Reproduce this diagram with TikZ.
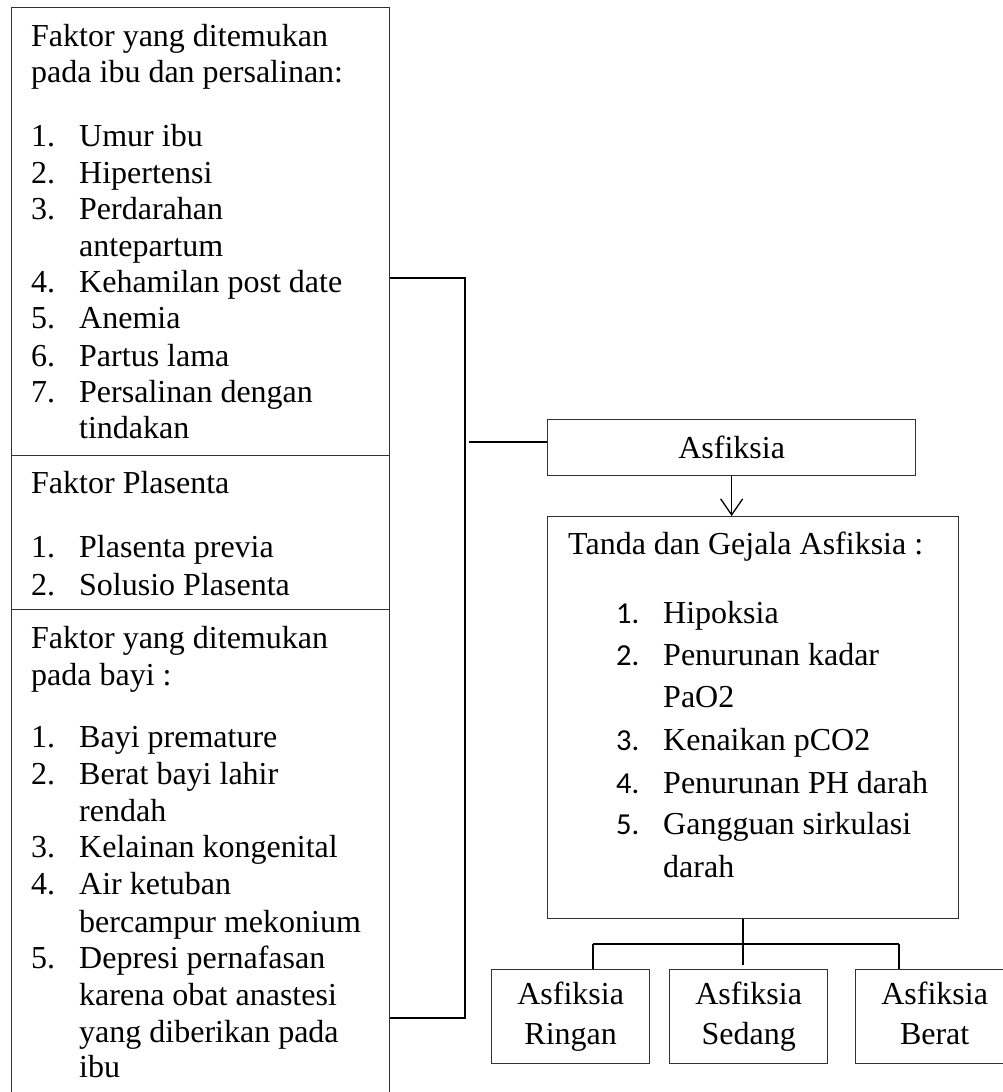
\documentclass[tikz,border=0pt]{standalone}
\usepackage{fontspec}
\setmainfont{Liberation Serif}
\newfontfamily\numfont{Carlito}
\usetikzlibrary{arrows.meta}

\begin{document}
\begin{tikzpicture}
[%%%%%%%%%%%%%%%%%%%%%%%%%%%%%%
x=1pt,y=-1pt,
box/.style={rectangle,draw=black!80,line width=1.3pt,inner sep=0pt,anchor=north west,align=center,font=\fontsize{32}{40}\selectfont},
txt/.style={anchor=base west,inner sep=0pt,font=\fontsize{32}{37}\selectfont},
num/.style={anchor=base west,inner sep=0pt,font=\fontsize{30.5}{37}\numfont},
link/.style={draw=black,line width=2pt},
arr/.style={draw=black,line width=1.3pt,-{Straight Barb[length=16pt,width=22pt]}},
]%%%%%%%%%%%%%%%%%%%%%%%%%%%%%%

\useasboundingbox (0,0) rectangle (1002,1092);

\node[box,minimum width=378pt,minimum height=448pt] (ibu) at (11,7){};
\node[box,minimum width=378pt,minimum height=154pt] (plasenta) at (11,455){};
\node[box,minimum width=378pt,minimum height=491pt] (bayi) at (11,609){};

\node[box,minimum width=368pt,minimum height=56pt] (asf) at (547,419){Asfiksia};
\node[box,minimum width=411pt,minimum height=402pt] (tanda) at (547,516){};
\node[box,minimum width=158pt,minimum height=94pt] (ringan) at (491,969){Asfiksia\\Ringan};
\node[box,minimum width=158pt,minimum height=94pt] (sedang) at (669,969){Asfiksia\\Sedang};
\node[box,minimum width=158pt,minimum height=94pt] (berat) at (855,969){Asfiksia\\Berat\vphantom{g}};

\foreach \y/\t [count=\i] in {46/Faktor yang ditemukan,82/pada ibu dan persalinan:,
493/Faktor Plasenta,648/Faktor yang ditemukan,685/pada bayi :}
\node[txt] (judul\i) at (31,\y){\t};

\foreach \y/\n [count=\i] in {146/1.,183/2.,219/3.,292/4.,328/5.,366/6.,402/7.,
557/1.,595/2.,747/1.,784/2.,857/3.,894/4.,968/5.}
\node[txt] (nomor\i) at (31,\y){\n};

\foreach \y/\t [count=\i] in {146/Umur ibu,183/Hipertensi,219/Perdarahan,256/antepartum,
292/Kehamilan post date,328/Anemia,366/Partus lama,402/Persalinan dengan,438/tindakan,
557/Plasenta previa,595/Solusio Plasenta,
747/Bayi premature,784/Berat bayi lahir,821/rendah,857/Kelainan kongenital,894/Air ketuban,
932/bercampur mekonium,968/Depresi pernafasan,1005/karena obat anastesi,
1042/yang diberikan pada,1077/ibu}
\node[txt] (isi\i) at (79,\y){\t};

\node[txt] (judultanda) at (568,554){Tanda dan Gejala Asfiksia :};
\foreach \y/\n [count=\i] in {623/1.,665/2.,750/3.,793/4.,834/5.}
\node[num] (nomorgejala\i) at (616,\y){\n};
\foreach \y/\t [count=\i] in {623/Hipoksia,665/Penurunan kadar,707/PaO2,750/Kenaikan pCO2,
793/Penurunan PH darah,834/Gangguan sirkulasi,877/darah}
\node[txt] (gejala\i) at (663,\y){\t};

\coordinate (atas) at (465,278);
\coordinate (bawah) at (465,1018);
\coordinate (tengah) at (469,442);
\draw[link] (atas -| ibu.east) -- (atas) -- (bawah) -- (bawah -| bayi.east);
\draw[link] (tengah) -- (tengah -| asf.west);
\draw[arr] (asf.south) -- (asf.south |- tanda.north);

\coordinate (cabang) at (743,944);
\coordinate (kiri) at (593,944);
\coordinate (kanan) at (899,944);
\draw[link,shorten >=4pt] (cabang |- tanda.south) -- (cabang |- sedang.north);
\draw[link] (kiri) -- (kanan);
\draw[link] (kiri) -- (kiri |- ringan.north);
\draw[link] (kanan) -- (kanan |- berat.north);
\end{tikzpicture}
\end{document}
